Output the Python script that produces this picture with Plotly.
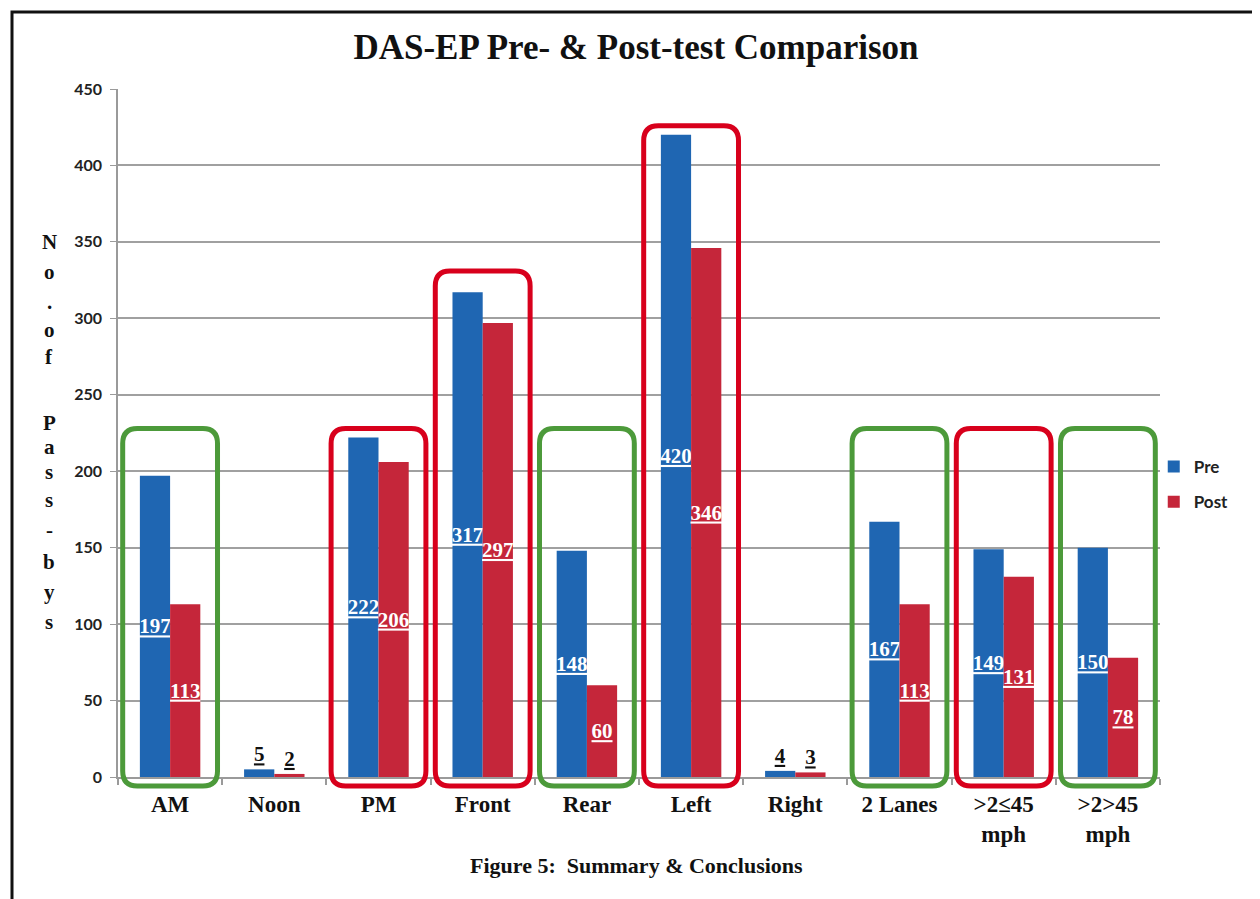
import plotly.graph_objects as go

categories = ["AM", "Noon", "PM", "Front", "Rear", "Left", "Right", "2 Lanes", ">2≤45<br>mph", ">2>45<br>mph"]
pre_values = [197, 5, 222, 317, 148, 420, 4, 167, 149, 150]
post_values = [113, 2, 206, 297, 60, 346, 3, 113, 131, 78]
y_ticks = [0, 50, 100, 150, 200, 250, 300, 350, 400, 450]

# highlight boxes: category index, colour, top value
box_index = [0, 2, 3, 4, 5, 7, 8, 9]
box_kind = ["g", "r", "r", "g", "r", "g", "r", "g"]
box_top = [228, 228, 331, 228, 426, 228, 228, 228]

BLUE = "#1f66b2"
RED = "#c5263a"
GREEN_BOX = "#4c9a3a"
RED_BOX = "#d8001c"
SERIF = "Liberation Serif"

xs = list(range(len(categories)))


def positions(vals):
    return ["outside" if v < 20 else "inside" for v in vals]


def tcolors(vals):
    return ["#111111" if v < 20 else "white" for v in vals]


fig = go.Figure()
for name, vals, col, grp in [("Pre", pre_values, BLUE, "a"), ("Post", post_values, RED, "b")]:
    fig.add_trace(go.Bar(
        x=xs, y=vals, name=name, marker=dict(color=col, line=dict(width=0)),
        text=[str(v) for v in vals], textposition=positions(vals),
        insidetextanchor="middle", cliponaxis=False, textangle=0, constraintext="none",
        textfont=dict(family=SERIF, size=21, weight="bold", color=tcolors(vals), lineposition="under"),
        legendgroup=grp,
    ))

n = len(categories)
shapes = []
rx = 0.14          # corner radius in category units
ry = 15 / 688      # corner radius in paper units
half = 0.455
ybot = -9 / 688
for idx, kind, top in zip(box_index, box_kind, box_top):
    x0, x1 = idx - half, idx + half
    yt = top / 450.0
    path = (f"M {x0 + rx},{ybot} L {x1 - rx},{ybot} Q {x1},{ybot} {x1},{ybot + ry} "
            f"L {x1},{yt - ry} Q {x1},{yt} {x1 - rx},{yt} L {x0 + rx},{yt} "
            f"Q {x0},{yt} {x0},{yt - ry} L {x0},{ybot + ry} Q {x0},{ybot} {x0 + rx},{ybot} Z")
    shapes.append(dict(type="path", xref="x", yref="paper", path=path,
                       line=dict(color=GREEN_BOX if kind == "g" else RED_BOX, width=5),
                       fillcolor="rgba(0,0,0,0)", layer="above"))

# outer frame
shapes.append(dict(type="rect", xref="paper", yref="paper",
                   x0=(12 - 118) / 1042, x1=(1256 - 118) / 1042,
                   y0=(777 - 910) / 688, y1=(777 - 12) / 688,
                   line=dict(color="#111111", width=3), fillcolor="rgba(0,0,0,0)", layer="above"))

annotations = []
# vertical stacked y-axis title
letters = ["N", "o", ".", "o", "f", "P", "a", "s", "s", "-", "b", "y", "s"]
letter_px = [242, 272, 302, 330, 357, 423, 447, 472, 500, 530, 562, 592, 622]
for ch, py in zip(letters, letter_px):
    annotations.append(dict(text=ch, xref="paper", yref="paper",
                            x=(49 - 118) / 1042, y=(777 - py) / 688,
                            xanchor="center", yanchor="middle", showarrow=False,
                            font=dict(family=SERIF, size=21, weight="bold", color="#111111")))
annotations.append(dict(text="Figure 5:  Summary &amp; Conclusions", xref="paper", yref="paper",
                        x=(636 - 118) / 1042, y=(777 - 866) / 688, xanchor="center", yanchor="middle",
                        showarrow=False, font=dict(family=SERIF, size=22, weight="bold", color="#111111")))

W, H = 1252, 891
fig.update_layout(
    width=W, height=H,
    margin=dict(l=110, r=W - 1152, t=81, b=H - 769),
    paper_bgcolor="white", plot_bgcolor="white",
    title=dict(text="DAS-EP Pre- &amp; Post-test Comparison", x=(636 - 8) / W, xanchor="center",
               y=1 - (47 - 8) / H, yanchor="middle",
               font=dict(family=SERIF, size=35, weight="bold", color="#111111")),
    barmode="group", bargap=0.42, bargroupgap=0,
    showlegend=True,
    legend=dict(x=0.994, xanchor="left", y=(777 - 449) / 688, yanchor="top",
                font=dict(family="Lato", size=17, weight="bold", color="#222222"),
                traceorder="grouped", tracegroupgap=10, bgcolor="rgba(0,0,0,0)"),
    xaxis=dict(tickmode="array", tickvals=xs, ticktext=categories, range=[-0.5, n - 0.5],
               showline=True, linecolor="#9a9a9a", linewidth=1.5, showgrid=False,
               ticks="", ticklabelstandoff=6,
               minor=dict(ticks="outside", ticklen=6, tickcolor="#9a9a9a", tickwidth=1.5,
                          tick0=0.5, dtick=1, showgrid=False),
               tickfont=dict(family=SERIF, size=23, weight="bold", color="#111111"), zeroline=False),
    yaxis=dict(range=[0, 450], tickmode="array", tickvals=y_ticks, showgrid=True,
               gridcolor="#a0a0a0", gridwidth=1.5, showline=True, linecolor="#9a9a9a", linewidth=1.5,
               ticks="outside", ticklen=6, tickcolor="#9a9a9a", zeroline=False, ticklabelstandoff=5,
               tickfont=dict(family="Lato", size=16, weight="bold", color="#222222")),
    shapes=shapes, annotations=annotations,
)

fig.write_html("out.html")
